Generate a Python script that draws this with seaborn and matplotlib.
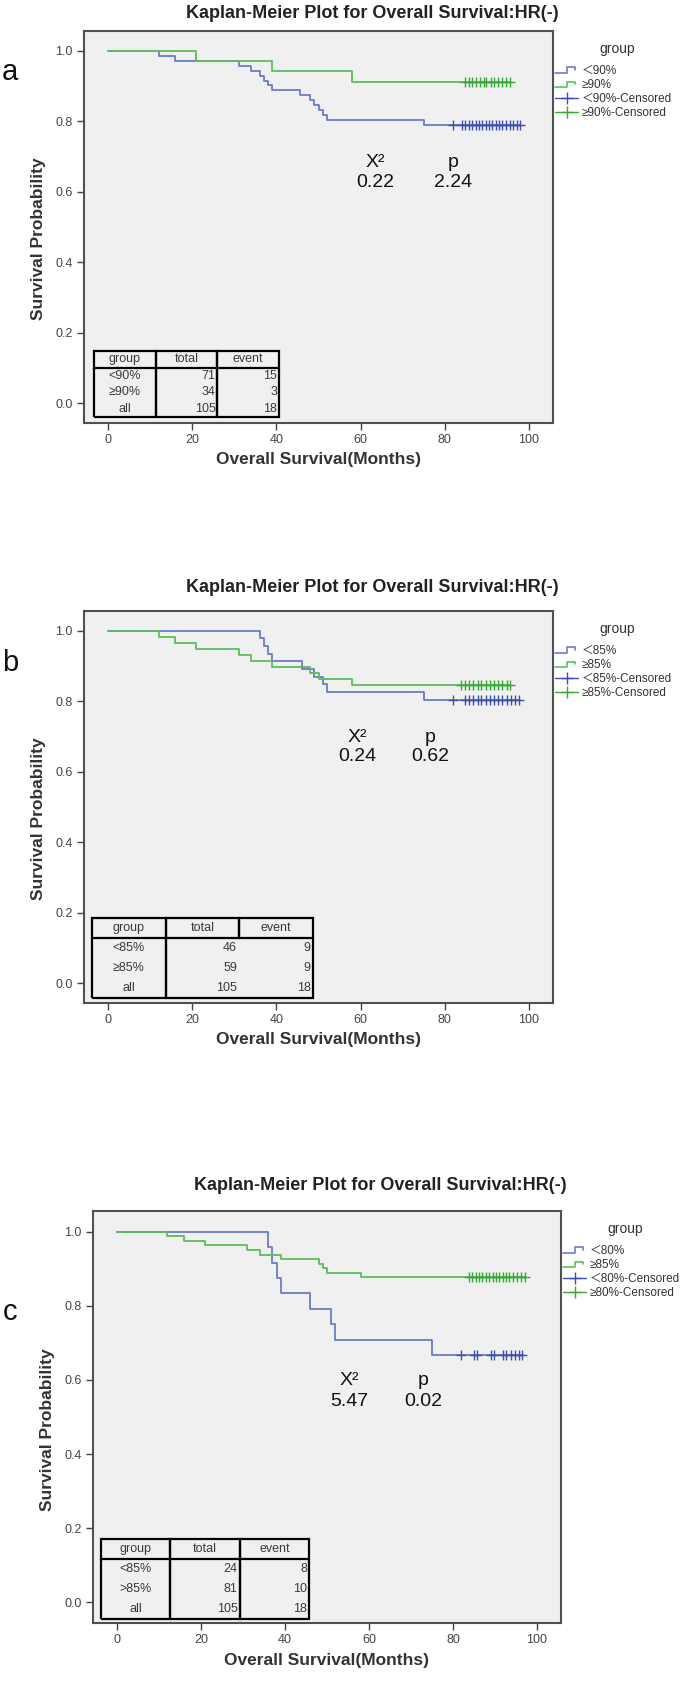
import numpy as np
import matplotlib
matplotlib.use("Agg")
import matplotlib.pyplot as plt
import seaborn as sns
from matplotlib.lines import Line2D
from matplotlib.legend_handler import HandlerBase
from matplotlib.table import Table

# ---- data (months) ----
# panel a
a_n_lo, a_n_hi = 71, 34
a_events_lo = [12, 16, 31, 34, 36, 37, 38, 39, 45.7, 48, 49, 50, 51, 52, 75]
a_events_hi = [21, 39, 58]
a_cens_lo = [82, 84.1, 84.9, 85.7, 86.5, 87.3, 88.1, 88.9, 89.7, 90.5, 91.3,
             92.1, 92.9, 93.7, 94.5, 95.4, 96.2, 97.2, 97.8]
a_cens_hi = [84.9, 85.7, 86.5, 87.4, 88.4, 89.2, 89.9, 90.9, 91.8, 92.7, 93.6,
             94.5, 95.6]
a_legend = ["＜90%", "≥90%", "＜90%-Censored", "≥90%-Censored"]
a_table = [["group", "total", "event"], ["<90%", "71", "15"],
           ["≥90%", "34", "3"], ["all", "105", "18"]]
a_stats = ["0.22", "2.24"]

# panel b
b_n_lo, b_n_hi = 46, 59
b_events_lo = [36, 37, 38, 39, 46, 49, 51, 52, 75]
b_events_hi = [12, 16, 21, 31, 34, 39, 48, 50, 58]
b_cens_lo = [82, 84.8, 85.8, 86.8, 87.8, 88.7, 89.8, 90.7, 91.8, 92.7, 93.7,
             94.7, 95.7, 96.7, 97.7]
b_cens_hi = [83.8, 84.8, 85.8, 86.8, 87.8, 88.7, 89.8, 90.7, 91.8, 92.7, 93.7,
             94.7, 95.6]
b_legend = ["＜85%", "≥85%", "＜85%-Censored", "≥85%-Censored"]
b_table = [["group", "total", "event"], ["<85%", "46", "9"],
           ["≥85%", "59", "9"], ["all", "105", "18"]]
b_stats = ["0.24", "0.62"]

# panel c
c_n_lo, c_n_hi = 24, 81
c_events_lo = [36, 37, 38, 39, 46, 51, 52, 75]
c_events_hi = [12, 16, 21, 31, 34, 39, 48, 49, 50, 58]
c_cens_lo = [82, 85, 85.7, 89, 89.8, 91.9, 92.7, 93.7, 94.7, 95.6, 96.5]
c_cens_hi = [83.8, 84.6, 85.4, 86.2, 87.0, 87.8, 88.6, 89.4, 90.2, 91.0, 91.8,
             92.6, 93.4, 94.3, 95.2, 96.2, 97.1]
c_legend = ["＜80%", "≥85%", "＜80%-Censored", "≥80%-Censored"]
c_table = [["group", "total", "event"], ["<85%", "24", "8"],
           [">85%", "81", "10"], ["all", "105", "18"]]
c_stats = ["5.47", "0.02"]

title = "Kaplan-Meier Plot for Overall Survival:HR(-)"

BLUE, GREEN = "#6b7cc6", "#5cbd5c"
BLUE_C, GREEN_C = "#3d50ad", "#38a838"
BG = "#f0f0f0"
DARK = "#333333"

sns.set_style("ticks", {"axes.facecolor": BG, "axes.edgecolor": "#505050"})
plt.rcParams["font.family"] = ["Liberation Sans", "Noto Sans CJK SC", "DejaVu Sans"]


def km_steps(n, events, cens):
    # Kaplan-Meier: all censoring happens after the last event here
    t, s, at_risk, cur = [0.0], [1.0], n, 1.0
    for e in sorted(events):
        cur *= (at_risk - 1) / at_risk
        at_risk -= 1
        t.append(e)
        s.append(cur)
    t.append(max(cens))
    s.append(cur)
    return t, s, cur


class StepHandler(HandlerBase):
    def create_artists(self, legend, orig_handle, xdescent, ydescent,
                       width, height, fontsize, trans):
        xs = np.array([0, 0.5, 0.5, 0.85, 0.85]) * width - xdescent
        ys = np.array([0.15, 0.15, 0.8, 0.8, 0.45]) * height - ydescent
        ln = Line2D(xs, ys, color=orig_handle.get_color(), lw=1.2, transform=trans)
        return [ln]


panels = [
    dict(letter="a", n=(a_n_lo, a_n_hi), ev=(a_events_lo, a_events_hi),
         ce=(a_cens_lo, a_cens_hi), leg=a_legend, tab=a_table, st=a_stats,
         rect=(84, 31, 469, 392), stat_x=(63.4, 81.9), stat_y=(0.684, 0.625),
         tbox=(94, 351, 185, 66), merge=False, title_y=13, title_x=372, letter_y=72),
    dict(letter="b", n=(b_n_lo, b_n_hi), ev=(b_events_lo, b_events_hi),
         ce=(b_cens_lo, b_cens_hi), leg=b_legend, tab=b_table, st=b_stats,
         rect=(84, 611, 469, 392), stat_x=(59.3, 76.5), stat_y=(0.697, 0.643),
         tbox=(92, 918, 221, 80), merge=True, title_y=587, title_x=372, letter_y=663),
    dict(letter="c", n=(c_n_lo, c_n_hi), ev=(c_events_lo, c_events_hi),
         ce=(c_cens_lo, c_cens_hi), leg=c_legend, tab=c_table, st=c_stats,
         rect=(93, 1211, 468, 412), stat_x=(55.3, 72.9), stat_y=(0.599, 0.543),
         tbox=(101, 1539, 208, 80), merge=False, title_y=1185, title_x=380, letter_y=1312),
]

W, H = 685, 1682
fig = plt.figure(figsize=(W / 100, H / 100), dpi=100)

for p in panels:
    L, T, w, h = p["rect"]
    ax = fig.add_axes([L / W, 1 - (T + h) / H, w / W, h / H])
    ax.set_facecolor(BG)

    for grp, col, ccol in [(0, BLUE, BLUE_C), (1, GREEN, GREEN_C)]:
        t, s, last = km_steps(p["n"][grp], p["ev"][grp], p["ce"][grp])
        sns.lineplot(x=t, y=s, drawstyle="steps-post", color=col, lw=1.3,
                     estimator=None, sort=False, ax=ax)
        sns.scatterplot(x=p["ce"][grp], y=[last] * len(p["ce"][grp]), marker="+",
                        s=55, color=ccol, linewidth=1.0, ax=ax, zorder=3)

    ax.set_xlim(-5.7, 105.7)
    ax.set_ylim(-0.056, 1.056)
    ax.set_xticks([0, 20, 40, 60, 80, 100])
    ax.set_yticks([0.0, 0.2, 0.4, 0.6, 0.8, 1.0])
    ax.set_yticklabels(["0.0", "0.2", "0.4", "0.6", "0.8", "1.0"])
    ax.tick_params(length=5, width=1, color="#444444", labelsize=9,
                   labelcolor="#444444", pad=3)
    for sp in ax.spines.values():
        sp.set_linewidth(1.5)
        sp.set_color("#505050")

    ax.set_xlabel("Overall Survival(Months)", fontsize=12.5, fontweight="bold", color=DARK)
    ax.set_ylabel("Survival Probability", fontsize=12.5, fontweight="bold", color=DARK)
    ax.xaxis.set_label_coords(0.5, -0.074)
    ax.yaxis.set_label_coords(-0.082, 0.47)

    # chi-square / p annotation
    for k, lab in enumerate(["X²", "p"]):
        ax.text(p["stat_x"][k], p["stat_y"][0], lab, ha="center", va="center",
                fontsize=14, color="#111111")
        ax.text(p["stat_x"][k], p["stat_y"][1], p["st"][k], ha="center", va="center",
                fontsize=14, color="#111111")

    # count table
    tx, ty, tw, th = p["tbox"]
    bbox = [(tx - L) / w, (T + h - ty - th) / h, tw / w, th / h]
    tb = Table(ax, bbox=bbox)
    nrow = len(p["tab"])
    for r, row in enumerate(p["tab"]):
        for c, txt in enumerate(row):
            loc = "center" if (r == 0 or c == 0) else "right"
            cell = tb.add_cell(r, c, width=1, height=1, text=txt, loc=loc,
                               facecolor="none", edgecolor="black")
            cell.PAD = 0.03
            cell.set_linewidth(1.6)
            cell.get_text().set_color("#3a3a3a")
            if r == 0:
                edges = "closed"
            elif r == nrow - 1:
                edges = "BLR"
            else:
                edges = "LR"
            if p["merge"] and c == 1:
                edges = edges.replace("R", "")
            if p["merge"] and c == 2:
                edges = edges.replace("L", "")
            cell.visible_edges = edges
    tb.auto_set_font_size(False)
    tb.set_fontsize(9)
    ax.add_table(tb)

    # legend, with the "group" heading as separate text
    hs = [Line2D([], [], color=BLUE, lw=1.2), Line2D([], [], color=GREEN, lw=1.2),
          Line2D([], [], color=BLUE_C, lw=1.0, marker="+", markersize=9),
          Line2D([], [], color=GREEN_C, lw=1.0, marker="+", markersize=9)]
    leg = ax.legend(hs, p["leg"], loc="upper left",
                    bbox_to_anchor=(1.004, 1 - 34 / h), frameon=False,
                    borderpad=0, borderaxespad=0, handlelength=2.0,
                    handletextpad=0.3, labelspacing=0.18, fontsize=8.5,
                    numpoints=1,
                    handler_map={hs[0]: StepHandler(), hs[1]: StepHandler()})
    for txt in leg.get_texts():
        txt.set_color("#333333")
    ax.text(1 + 64 / w, 1 - 18 / h, "group", transform=ax.transAxes, ha="center",
            va="center", fontsize=10, color="#333333")

    fig.text(p["title_x"] / W, 1 - p["title_y"] / H, title, ha="center", va="center",
             fontsize=13, fontweight="bold", color="#222222")
    fig.text(10 / W, 1 - p["letter_y"] / H, p["letter"], ha="center", va="center",
             fontsize=21, color="#111111")

fig.savefig("out.png", dpi=100, facecolor="white")
